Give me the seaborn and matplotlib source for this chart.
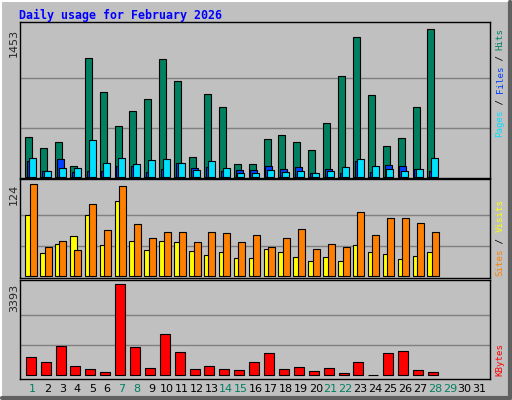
import matplotlib
matplotlib.use("Agg")
import matplotlib.pyplot as plt
import matplotlib.patches as mpatches
import seaborn as sns
import numpy as np

title = "Daily usage for February 2026"
days = list(range(1, 32))
weekend_days = [1, 7, 8, 14, 15, 21, 22, 28, 29]

# values for days 1..28
hits = [388, 279, 339, 102, 1167, 832, 496, 644, 763, 1157, 940, 191, 812, 684,
        122, 122, 368, 408, 339, 260, 526, 989, 1374, 802, 299, 378, 684, 1453]
files = [151, 53, 171, 43, 53, 53, 102, 102, 43, 72, 131, 82, 92, 53,
         62, 62, 102, 72, 92, 33, 72, 33, 151, 43, 112, 102, 72, 53]
pages = [181, 53, 82, 82, 358, 131, 181, 122, 161, 171, 131, 62, 151, 82,
         33, 33, 62, 43, 53, 33, 53, 92, 171, 102, 72, 53, 72, 181]
visits = [82, 31, 43, 54, 82, 42, 101, 47, 35, 48, 46, 34, 28, 32,
          24, 24, 36, 32, 26, 20, 26, 20, 42, 32, 30, 23, 27, 32]
sites = [124, 39, 47, 35, 97, 62, 121, 70, 51, 60, 60, 46, 60, 58,
         46, 55, 39, 52, 63, 36, 43, 39, 86, 56, 78, 78, 71, 59]
kbytes = [671, 485, 1081, 336, 224, 112, 3393, 1044, 261, 1529, 858, 224, 336, 224,
          186, 485, 820, 224, 298, 149, 261, 75, 485, 25, 820, 895, 186, 112]
max_hits, max_sites, max_kbytes = 1453, 124, 3393

BG = "#C0C0C0"
GRID = "#808080"
C_HITS, C_FILES, C_PAGES = "#008060", "#0040FF", "#00E0FF"
C_VISITS, C_SITES, C_KB = "#FFFF00", "#FF8000", "#FF0000"
GREEN = "#008060"

sns.set_style("white")
plt.rcParams["font.family"] = ["DejaVu Sans"]
fig = plt.figure(figsize=(5.12, 4.0), dpi=100, facecolor=BG)

# bevelled frame
fig.add_artist(mpatches.Rectangle((0.002, 0.003), 0.994, 0.994, transform=fig.transFigure,
                                  fill=False, edgecolor="white", lw=1.5))
fig.add_artist(plt.Line2D([0.004, 0.996], [0.004, 0.004], transform=fig.transFigure, color="#606060", lw=3))
fig.add_artist(plt.Line2D([0.996, 0.996], [0.004, 0.996], transform=fig.transFigure, color="#606060", lw=3))

W, H = 512, 400
def box(top, bottom):
    return [20 / W, 1 - bottom / H, 470 / W, (bottom - top) / H]

ax1 = fig.add_axes(box(22, 178))
ax2 = fig.add_axes(box(179, 278))
ax3 = fig.add_axes(box(280, 379))

d = np.arange(1, len(hits) + 1)
bw = 0.47
kw = dict(align="edge", edgecolor="black", linewidth=0.8)
ax1.bar(d - 0.5, hits, bw, color=C_HITS, **kw)
ax1.bar(d - 0.38, files, bw, color=C_FILES, **kw)
ax1.bar(d - 0.25, pages, bw, color=C_PAGES, **kw)
ax2.bar(d - 0.5, visits, bw, color=C_VISITS, **kw)
ax2.bar(d - 0.2, sites, bw, color=C_SITES, **kw)
sns.barplot(x=d - 0.13, y=kbytes, native_scale=True, width=0.67, color=C_KB,
            saturation=1, edgecolor="black", linewidth=0.8, ax=ax3)

for ax, mx, lo, hi in [(ax1, max_hits, -13, 1525), (ax2, max_sites, -2.3, 130.7),
                       (ax3, max_kbytes, -138, 3553)]:
    ax.set_facecolor(BG)
    ax.set_xlim(0.15, 31.7)
    ax.set_ylim(lo, hi)
    ax.set_xticks([]); ax.set_yticks([])
    ax.set_xlabel(""); ax.set_ylabel("")
    for g in (mx / 3, 2 * mx / 3):
        ax.axhline(g, color=GRID, lw=1, zorder=0)
    for s in ax.spines.values():
        s.set_visible(True); s.set_color("black"); s.set_linewidth(1)

fig.text(19 / W, 1 - 15 / H, title, color="#0000FF", fontsize=8.4, fontweight="bold",
         family="DejaVu Sans Mono", va="center", ha="left")

for label, top in [(str(max_hits), 29), (str(max_sites), 184), (str(max_kbytes), 284)]:
    fig.text(14 / W, 1 - top / H, label, rotation=90, fontsize=8, va="top", ha="center")

def vlabel(parts, bottom_px, step=5.45):
    pos = bottom_px
    for txt, col in parts:
        fig.text(500 / W, 1 - pos / H, txt, rotation=90, color=col, fontsize=6.6,
                 family="DejaVu Sans Mono", va="bottom", ha="center")
        pos -= step * len(txt)

vlabel([("Pages", C_PAGES), (" / ", "black"), ("Files", C_FILES), (" / ", "black"), ("Hits", C_HITS)], 137)
vlabel([("Sites", C_SITES), (" / ", "black"), ("Visits", C_VISITS)], 276)
vlabel([("KBytes", C_KB)], 376)

for day in days:
    x = 20 + (day - 0.15) * (470 / 31.55)
    fig.text(x / W, 1 - 389 / H, str(day), ha="center", va="center", fontsize=8,
             color=GREEN if day in weekend_days else "black")

fig.savefig("out.png", dpi=100, facecolor=BG)
